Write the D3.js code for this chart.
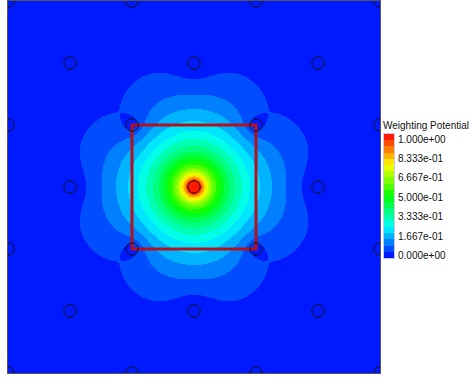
<!DOCTYPE html>
<html>
<head>
<meta charset="utf-8">
<script src="https://cdn.jsdelivr.net/npm/d3@7"></script>
<style>
  html, body { margin: 0; padding: 0; background: #fff; }
  svg { display: block; }
  text { font-family: "Liberation Sans", Arial, sans-serif; fill: #111; }
</style>
</head>
<body>
<svg id="chart" width="472" height="378"></svg>
<script>
// Cross-section of a 3D sensor: 3 x 3 pixels of 50 µm, coordinates in µm.
const domainSize = 150;

// Electrode columns: centre x, centre y (µm), doping type and weighting potential.
const electrodeX = [0, 50, 100, 150,  25, 75, 125,  0, 50, 100, 150,  25, 75, 125,
                    0, 50, 100, 150,  25, 75, 125,  0, 50, 100, 150];
const electrodeY = [0, 0, 0, 0,  25, 25, 25,  50, 50, 50, 50,  75, 75, 75,
                    100, 100, 100, 100,  125, 125, 125,  150, 150, 150, 150];
const electrodeType = ["p", "p", "p", "p",  "n", "n", "n",  "p", "p", "p", "p",  "n", "n", "n",
                       "p", "p", "p", "p",  "n", "n", "n",  "p", "p", "p", "p"];
const electrodeV = [0, 0, 0, 0,  0, 0, 0,  0, 0, 0, 0,  0, 1, 0,
                    0, 0, 0, 0,  0, 0, 0,  0, 0, 0, 0];
// Column outline radius, and contact radius in the section plane per type (µm)
const electrodeRadius = 2.5;
const contactRadius = { n: 2.5, p: 0.85 };

// Read-out pixel outline (µm)
const pixelX = [50, 100];
const pixelY = [50, 100];

// Filled contour levels and colour legend
const levels = [0, 0.05, 0.1, 0.15, 0.2, 0.25, 0.3, 0.35, 0.4, 0.45,
                0.5, 0.55, 0.6, 0.65, 0.7, 0.75, 0.8, 0.85, 0.9, 0.95];
const tickValues = [0, 1 / 6, 2 / 6, 3 / 6, 4 / 6, 5 / 6, 1];
const tickLabels = ["0.000e+00", "1.667e-01", "3.333e-01", "5.000e-01",
                    "6.667e-01", "8.333e-01", "1.000e+00"];
const legendTitle = "Weighting Potential";

const svg = d3.select("#chart");
const W = 472, H = 378;
svg.append("rect").attr("width", W).attr("height", H).attr("fill", "#fff");

const plot = { left: 8, top: 1, right: 380, bottom: 373 };
const x = d3.scaleLinear().domain([0, domainSize]).range([plot.left, plot.right]);
const y = d3.scaleLinear().domain([0, domainSize]).range([plot.top, plot.bottom]);

// Blue-to-red rainbow (HSV hue 240 -> 0)
const rainbow = t => d3.hsl(240 * (1 - t), 1, 0.5).formatHex();
const step = levels[1] - levels[0];

// ---- Weighting potential: Laplace equation with the contacts held at their
// potential and a zero-flux outer boundary, solved by over-relaxation
// (coarse grid first, then refined).
function relax(n, init, iterations, omega) {
  const h = domainSize / n;
  const phi = init || new Float64Array(n * n);
  const fixed = new Uint8Array(n * n);
  for (let j = 0; j < n; j++) {
    const cy = (j + 0.5) * h;
    for (let i = 0; i < n; i++) {
      const cx = (i + 0.5) * h;
      for (let e = 0; e < electrodeX.length; e++) {
        const dx = cx - electrodeX[e], dy = cy - electrodeY[e];
        const r = Math.max(contactRadius[electrodeType[e]], 0.75 * h);
        if (dx * dx + dy * dy <= r * r) {
          fixed[j * n + i] = 1;
          phi[j * n + i] = electrodeV[e];
        }
      }
    }
  }
  for (let it = 0; it < iterations; it++) {
    for (let j = 0; j < n; j++) {
      for (let i = 0; i < n; i++) {
        const k = j * n + i;
        if (fixed[k]) continue;
        let s = 0, c = 0;
        if (i > 0) { s += phi[k - 1]; c++; }
        if (i < n - 1) { s += phi[k + 1]; c++; }
        if (j > 0) { s += phi[k - n]; c++; }
        if (j < n - 1) { s += phi[k + n]; c++; }
        phi[k] += omega * (s / c - phi[k]);
      }
    }
  }
  return phi;
}
const N = 372, f = 4, Nc = N / f;
const coarse = relax(Nc, null, 2500, 1.94);
const start = new Float64Array(N * N);
for (let j = 0; j < N; j++)
  for (let i = 0; i < N; i++)
    start[j * N + i] = coarse[Math.floor(j / f) * Nc + Math.floor(i / f)];
const phi = relax(N, start, 800, 1.95);

// ---- Filled contours
const g = d3.scaleLinear().domain([0, N]).range([0, domainSize]);
const proj = d3.geoTransform({
  point(px, py) { this.stream.point(x(g(px)), y(g(py))); }
});
const path = d3.geoPath(proj);
const contours = d3.contours().size([N, N]).thresholds(levels)(Array.from(phi));

svg.append("defs").append("clipPath").attr("id", "plotClip")
  .append("rect")
  .attr("x", plot.left).attr("y", plot.top)
  .attr("width", plot.right - plot.left).attr("height", plot.bottom - plot.top);

const field = svg.append("g").attr("clip-path", "url(#plotClip)");
field.selectAll("path.band")
  .data(contours)
  .join("path")
  .attr("class", "band")
  .attr("d", path)
  .attr("fill", d => rainbow(d.value + step / 2))
  .attr("shape-rendering", "crispEdges");

// Read-out pixel outline
field.append("rect")
  .attr("x", x(pixelX[0])).attr("y", y(pixelY[0]))
  .attr("width", x(pixelX[1]) - x(pixelX[0]))
  .attr("height", y(pixelY[1]) - y(pixelY[0]))
  .attr("fill", "none")
  .attr("stroke", "#b3121c")
  .attr("stroke-width", 3);

// Electrode columns
field.selectAll("circle.col")
  .data(electrodeX.map((ex, i) => ({ x: ex, y: electrodeY[i] })))
  .join("circle")
  .attr("class", "col")
  .attr("cx", d => x(d.x))
  .attr("cy", d => y(d.y))
  .attr("r", x(electrodeRadius) - x(0))
  .attr("fill", "none")
  .attr("stroke", "#111")
  .attr("stroke-width", 1);

// Plot frame
svg.append("rect")
  .attr("x", plot.left - 0.5).attr("y", plot.top - 0.5)
  .attr("width", plot.right - plot.left + 1).attr("height", plot.bottom - plot.top + 1)
  .attr("fill", "none")
  .attr("stroke", "#555")
  .attr("stroke-width", 1);

// ---- Colour legend
const bar = { x: 384, w: 10 };
const cy = d3.scaleLinear().domain([0, 1]).range([258, 134]);
const legend = svg.append("g");
legend.selectAll("rect.swatch")
  .data(levels)
  .join("rect")
  .attr("class", "swatch")
  .attr("x", bar.x)
  .attr("y", d => cy(d + step))
  .attr("width", bar.w)
  .attr("height", d => cy(d) - cy(d + step))
  .attr("fill", d => rainbow(d + step / 2))
  .attr("shape-rendering", "crispEdges");
legend.append("rect")
  .attr("x", bar.x - 0.5).attr("y", cy(1) - 0.5)
  .attr("width", bar.w + 1).attr("height", cy(0) - cy(1) + 1)
  .attr("fill", "none")
  .attr("stroke", "#c9c9e8")
  .attr("stroke-width", 1);

const ly = d3.scaleLinear().domain([0, 1]).range([259, 142.5]);
legend.selectAll("text.tick")
  .data(tickValues)
  .join("text")
  .attr("class", "tick")
  .attr("x", 398)
  .attr("y", d => ly(d))
  .attr("font-size", 10)
  .text((d, i) => tickLabels[i]);

legend.append("text")
  .attr("x", 383)
  .attr("y", 128.5)
  .attr("font-size", 10)
  .text(legendTitle);
</script>
</body>
</html>
